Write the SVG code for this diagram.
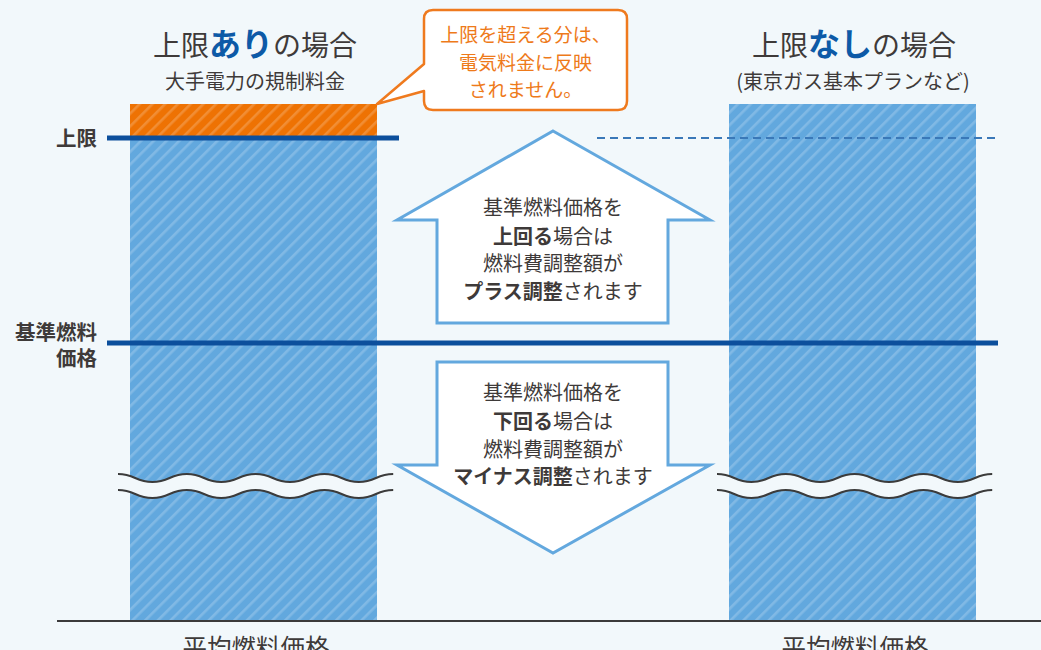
<svg xmlns="http://www.w3.org/2000/svg" width="1041" height="650" viewBox="0 0 1041 650">
<style>
text{font-family:"Noto Sans CJK JP","Noto Sans",sans-serif;fill:#3e3a39}
.b{font-weight:bold}
.blue{fill:#0d5aa7;font-weight:bold}
.or{fill:#ee7a1a}
.arrow{fill:#ffffff;stroke:#63a8de;stroke-width:3;stroke-linejoin:miter}
.wave{fill:none;stroke:#3b3b3b;stroke-width:2}
</style>
<defs>
<pattern id="stripeB" patternUnits="userSpaceOnUse" width="9" height="9" patternTransform="rotate(45)">
<rect width="9" height="9" fill="#62a8de"/>
<rect x="0" y="0" width="2.6" height="9" fill="#ffffff" fill-opacity="0.2"/>
</pattern>
<pattern id="stripeO" patternUnits="userSpaceOnUse" width="9" height="9" patternTransform="rotate(45)">
<rect width="9" height="9" fill="#ee7203"/>
<rect x="0" y="0" width="2.6" height="9" fill="#ffffff" fill-opacity="0.2"/>
</pattern>
</defs>
<rect width="1041" height="650" fill="#f2f8fb"/>

<g id="title-left">
<text x="255" y="56" font-size="28" text-anchor="middle">上限<tspan class="blue" font-size="32">あり</tspan>の場合</text>
<text x="255" y="89" font-size="20" text-anchor="middle">大手電力の規制料金</text>
</g>
<g id="title-right">
<text x="854" y="56" font-size="28" text-anchor="middle">上限<tspan class="blue" font-size="32">なし</tspan>の場合</text>
<text x="853" y="89" font-size="20" text-anchor="middle">(東京ガス基本プランなど)</text>
</g>

<g id="bar-left">
<rect x="130" y="104" width="247" height="516" fill="url(#stripeB)"/>
<rect x="130" y="104" width="247" height="34" fill="url(#stripeO)"/>
</g>
<g id="bar-right">
<rect x="729" y="104" width="247" height="516" fill="url(#stripeB)"/>
</g>

<g id="callout">
<path d="M433 10 H618 Q627 10 627 19 V101 Q627 110 618 110 H433 Q424 110 424 101 V91 L377 104 L424 64 V19 Q424 10 433 10 Z" fill="#ffffff" stroke="#ef7a1e" stroke-width="2.5" stroke-linejoin="round"/>
<text class="or" x="525.5" y="42" font-size="19" text-anchor="middle">上限を超える分は、</text>
<text class="or" x="525.5" y="70" font-size="19" text-anchor="middle">電気料金に反映</text>
<text class="or" x="525.5" y="97" font-size="19" text-anchor="middle">されません。</text>
</g>

<g id="connectors">
<line x1="107" y1="138" x2="399" y2="138" stroke="#0c4f9c" stroke-width="5"/>
<line x1="597" y1="138" x2="1000" y2="138" stroke="#3a78b8" stroke-width="2" stroke-dasharray="8 5"/>
<line x1="107" y1="343" x2="998" y2="343" stroke="#0c4f9c" stroke-width="5"/>
<line x1="57" y1="621" x2="1041" y2="621" stroke="#3b3b3b" stroke-width="2"/>
</g>

<g id="arrow-up">
<polygon class="arrow" points="553,131 710,220 668,220 668,323 437,323 437,220 397,220"/>
<text x="553" y="215" font-size="20" text-anchor="middle">基準燃料価格を</text>
<text x="553" y="244" font-size="20" text-anchor="middle"><tspan class="b">上回る</tspan>場合は</text>
<text x="553" y="271" font-size="20" text-anchor="middle">燃料費調整額が</text>
<text x="553" y="299" font-size="20" text-anchor="middle"><tspan class="b">プラス調整</tspan>されます</text>
</g>

<g id="arrow-down">
<polygon class="arrow" points="437,362 668,362 668,465 710,465 553,553 397,465 437,465"/>
<text x="553" y="400" font-size="20" text-anchor="middle">基準燃料価格を</text>
<text x="553" y="429" font-size="20" text-anchor="middle"><tspan class="b">下回る</tspan>場合は</text>
<text x="553" y="457" font-size="20" text-anchor="middle">燃料費調整額が</text>
<text x="553" y="484" font-size="20" text-anchor="middle"><tspan class="b">マイナス調整</tspan>されます</text>
</g>

<g id="break-left">
<path d="M118 474 c17.2 0 17.2 8 34.4 8 s17.2 -8 34.4 -8 s17.2 8 34.4 8 s17.2 -8 34.4 -8 s17.2 8 34.4 8 s17.2 -8 34.4 -8 s17.2 8 34.4 8 s17.2 -8 34.4 -8 V490 c-17.2 0 -17.2 8 -34.4 8 s-17.2 -8 -34.4 -8 s-17.2 8 -34.4 8 s-17.2 -8 -34.4 -8 s-17.2 8 -34.4 8 s-17.2 -8 -34.4 -8 s-17.2 8 -34.4 8 s-17.2 -8 -34.4 -8 Z" fill="#f2f8fb"/>
<path class="wave" d="M118 474 c17.2 0 17.2 8 34.4 8 s17.2 -8 34.4 -8 s17.2 8 34.4 8 s17.2 -8 34.4 -8 s17.2 8 34.4 8 s17.2 -8 34.4 -8 s17.2 8 34.4 8 s17.2 -8 34.4 -8"/>
<path class="wave" d="M118 490 c17.2 0 17.2 8 34.4 8 s17.2 -8 34.4 -8 s17.2 8 34.4 8 s17.2 -8 34.4 -8 s17.2 8 34.4 8 s17.2 -8 34.4 -8 s17.2 8 34.4 8 s17.2 -8 34.4 -8"/>
</g>
<g id="break-right">
<path d="M717 474 c17.2 0 17.2 8 34.4 8 s17.2 -8 34.4 -8 s17.2 8 34.4 8 s17.2 -8 34.4 -8 s17.2 8 34.4 8 s17.2 -8 34.4 -8 s17.2 8 34.4 8 s17.2 -8 34.4 -8 V490 c-17.2 0 -17.2 8 -34.4 8 s-17.2 -8 -34.4 -8 s-17.2 8 -34.4 8 s-17.2 -8 -34.4 -8 s-17.2 8 -34.4 8 s-17.2 -8 -34.4 -8 s-17.2 8 -34.4 8 s-17.2 -8 -34.4 -8 Z" fill="#f2f8fb"/>
<path class="wave" d="M717 474 c17.2 0 17.2 8 34.4 8 s17.2 -8 34.4 -8 s17.2 8 34.4 8 s17.2 -8 34.4 -8 s17.2 8 34.4 8 s17.2 -8 34.4 -8 s17.2 8 34.4 8 s17.2 -8 34.4 -8"/>
<path class="wave" d="M717 490 c17.2 0 17.2 8 34.4 8 s17.2 -8 34.4 -8 s17.2 8 34.4 8 s17.2 -8 34.4 -8 s17.2 8 34.4 8 s17.2 -8 34.4 -8 s17.2 8 34.4 8 s17.2 -8 34.4 -8"/>
</g>

<g id="axis-labels">
<text class="b" x="97" y="146" font-size="20.5" text-anchor="end">上限</text>
<text class="b" x="97" y="340" font-size="20.5" text-anchor="end">基準燃料</text>
<text class="b" x="97" y="366" font-size="20.5" text-anchor="end">価格</text>
<text x="256" y="657" font-size="24.5" text-anchor="middle">平均燃料価格</text>
<text x="855" y="657" font-size="24.5" text-anchor="middle">平均燃料価格</text>
</g>
</svg>
